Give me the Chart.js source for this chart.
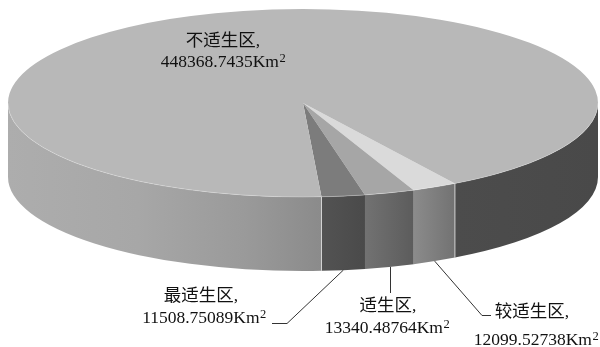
<!DOCTYPE html>
<html><head><meta charset="utf-8">
<script src="https://cdn.jsdelivr.net/npm/chart.js@4/dist/chart.umd.min.js"></script>
<style>html,body{margin:0;padding:0;background:#fff;overflow:hidden}canvas{display:block}</style>
</head><body>
<canvas id="c" width="600" height="347"></canvas>
<script>
// ---- data ----
const categories = ['较适生区', '适生区', '最适生区', '不适生区'];
const areas = [12099.52738, 13340.48764, 11508.75089, 448368.7435];
const valueLabels = ['12099.52738', '13340.48764', '11508.75089', '448368.7435'];
const unitText = 'Km';
const unitSup = '2';

// ---- styles ----
const topColors = ['#dadada', '#a6a6a6', '#7c7c7c', '#b8b8b8'];
const sideColors = [['#8b8b8b', '#727272'], ['#727272', '#5c5c5c'], ['#535353', '#4a4a4a'], null];
const CX = 303, CY = 103, RX = 295, RY = 94, DEPTH = 74;
const FONT = '17.5px "Liberation Serif", "Noto Sans CJK SC", serif';
const SUPFONT = '12.5px "Liberation Serif", serif';
// label layout: [line1 centerX, line1 baseline, line2 centerX, line2 baseline]
const labelPos = [[532, 317, 536, 345], [388, 311, 387, 333], [201, 301, 204, 323], [223, 46, 223, 67]];

function visiblePieces(s, e) {
  const out = [];
  for (let k = -1; k <= 2; k++) {
    const lo = Math.max(s, 2 * Math.PI * k), hi = Math.min(e, 2 * Math.PI * k + Math.PI);
    if (hi > lo) out.push([lo, hi]);
  }
  return out;
}

function sideFill(ctx, i, s, e) {
  if (i === 3) {
    const g = ctx.createLinearGradient(CX - RX, 0, CX + RX, 0);
    g.addColorStop(0, '#adadad');
    g.addColorStop(0.22, '#a7a7a7');
    g.addColorStop(0.4, '#9a9a9a');
    g.addColorStop(0.53, '#8b8b8b');
    g.addColorStop(0.76, '#4c4c4c');
    g.addColorStop(1, '#494949');
    return g;
  }
  const xl = CX + RX * Math.cos(e), xr = CX + RX * Math.cos(s);
  const g = ctx.createLinearGradient(xl, 0, xr, 0);
  g.addColorStop(0, sideColors[i][0]);
  g.addColorStop(1, sideColors[i][1]);
  return g;
}

function drawValue(ctx, text, cx, base) {
  ctx.font = FONT;
  const w1 = ctx.measureText(text + unitText).width;
  ctx.font = SUPFONT;
  const w2 = ctx.measureText(unitSup).width;
  const x0 = cx - (w1 + w2) / 2;
  ctx.font = FONT;
  ctx.fillText(text + unitText, x0, base);
  ctx.font = SUPFONT;
  ctx.fillText(unitSup, x0 + w1 + 0.5, base - 5.5);
}

const pie3d = {
  id: 'pie3d',
  beforeDatasetsDraw(chart) {
    const ctx = chart.ctx;
    const arcs = chart.getDatasetMeta(0).data;
    ctx.save();
    arcs.forEach((arc, i) => {
      const { startAngle, endAngle } = arc.getProps(['startAngle', 'endAngle'], true);
      visiblePieces(startAngle, endAngle).forEach(([s, e]) => {
        ctx.beginPath();
        ctx.ellipse(CX, CY, RX, RY, 0, s, e, false);
        ctx.ellipse(CX, CY + DEPTH, RX, RY, 0, e, s, true);
        ctx.closePath();
        ctx.fillStyle = sideFill(ctx, i, s, e);
        ctx.fill();
      });
    });
    // light seams where the large slice meets the small ones on the wall
    const big = arcs[3].getProps(['startAngle', 'endAngle'], true);
    [big.startAngle, big.endAngle].forEach(a => {
      const c = Math.cos(a), sn = Math.sin(a);
      if (sn <= 0) return;
      ctx.beginPath();
      ctx.moveTo(CX + RX * c, CY + RY * sn);
      ctx.lineTo(CX + RX * c, CY + DEPTH + RY * sn);
      ctx.strokeStyle = 'rgba(225,225,225,0.85)';
      ctx.lineWidth = 1;
      ctx.stroke();
    });
    ctx.restore();
  },
  beforeDatasetDraw(chart) {
    const ctx = chart.ctx;
    const a = chart.getDatasetMeta(0).data[0];
    ctx.save();
    ctx.translate(CX, CY);
    ctx.scale(RX / a.outerRadius, RY / a.outerRadius);
    ctx.translate(-a.x, -a.y);
  },
  afterDatasetDraw(chart) {
    chart.ctx.restore();
  },
  afterDatasetsDraw(chart) {
    const ctx = chart.ctx;
    const arcs = chart.getDatasetMeta(0).data;
    ctx.save();
    // faint rim highlight on top face edge
    ctx.beginPath();
    ctx.ellipse(CX, CY, RX, RY, 0, 0, Math.PI, false);
    ctx.strokeStyle = 'rgba(255,255,255,0.25)';
    ctx.lineWidth = 1;
    ctx.stroke();
    // leader lines
    ctx.strokeStyle = '#333';
    ctx.lineWidth = 1;
    const mid = i => {
      const p = arcs[i].getProps(['startAngle', 'endAngle'], true);
      const m = (p.startAngle + p.endAngle) / 2;
      return [CX + RX * Math.cos(m), CY + DEPTH + RY * Math.sin(m)];
    };
    let [x, y] = mid(2);
    ctx.beginPath(); ctx.moveTo(x, y); ctx.lineTo(287, 323.5); ctx.lineTo(272, 323.5); ctx.stroke();
    [x, y] = mid(1);
    ctx.beginPath(); ctx.moveTo(Math.round(x) + 0.5, y); ctx.lineTo(Math.round(x) + 0.5, 293); ctx.stroke();
    [x, y] = mid(0);
    ctx.beginPath(); ctx.moveTo(x, y); ctx.lineTo(482, 315.5); ctx.lineTo(491, 315.5); ctx.stroke();
    // labels
    ctx.fillStyle = '#111';
    ctx.textAlign = 'left';
    ctx.textBaseline = 'alphabetic';
    categories.forEach((cat, i) => {
      const [x1, b1, x2, b2] = labelPos[i];
      ctx.font = FONT;
      const t = cat + ',';
      const w = ctx.measureText(t).width;
      ctx.fillText(t, x1 - w / 2, b1);
      drawValue(ctx, valueLabels[i], x2, b2);
    });
    ctx.restore();
  }
};

new Chart(document.getElementById('c'), {
  type: 'pie',
  data: {
    labels: categories,
    datasets: [{ data: areas, backgroundColor: topColors, borderWidth: 0, clip: false }]
  },
  options: {
    responsive: false,
    animation: false,
    events: [],
    rotation: 149,
    layout: { padding: 0 },
    plugins: { legend: { display: false }, tooltip: { enabled: false } }
  },
  plugins: [pie3d]
});
</script>
</body></html>
